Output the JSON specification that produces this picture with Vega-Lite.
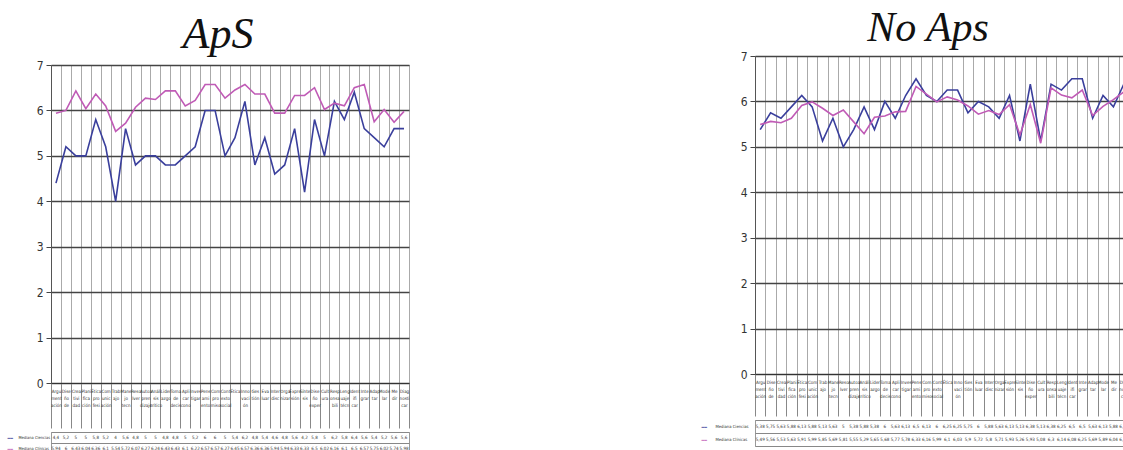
{
  "$schema": "https://vega.github.io/schema/vega-lite/v6.json",
  "background": "white",
  "padding": {"left": 5, "top": 5, "right": 0, "bottom": 0},
  "config": {
    "locale": {"number": {"decimal": ",", "thousands": ".", "grouping": [3], "currency": ["", " €"]}},
    "view": {"stroke": "#999"},
    "font": "DejaVu Sans Condensed"
  },
  "datasets": {
    "aps": [
      {"c":"Argu|ment|ación","s":"Mediana Ciencias","v":4.4},{"c":"Dise|ño|de","s":"Mediana Ciencias","v":5.2},{"c":"Crea|tivi|dad","s":"Mediana Ciencias","v":5},{"c":"Plani|fica|ción","s":"Mediana Ciencias","v":5},{"c":"Ética|pro|fesi","s":"Mediana Ciencias","v":5.8},{"c":"Com|unic|ación","s":"Mediana Ciencias","v":5.2},{"c":"Trab|ajo","s":"Mediana Ciencias","v":4},{"c":"Mane|jo|tecn","s":"Mediana Ciencias","v":5.6},{"c":"Reso|lver","s":"Mediana Ciencias","v":4.8},{"c":"Autoa|pren|dizaje","s":"Mediana Ciencias","v":5},{"c":"Análi|sis|crítico","s":"Mediana Ciencias","v":5},{"c":"Lider|azgo","s":"Mediana Ciencias","v":4.8},{"c":"Toma|de|decis","s":"Mediana Ciencias","v":4.8},{"c":"Apli|car|cono","s":"Mediana Ciencias","v":5},{"c":"Inves|tigar","s":"Mediana Ciencias","v":5.2},{"c":"Pens|ami|ento","s":"Mediana Ciencias","v":6},{"c":"Com|pro|miso","s":"Mediana Ciencias","v":6},{"c":"Cont|exto|social","s":"Mediana Ciencias","v":5},{"c":"Ética","s":"Mediana Ciencias","v":5.4},{"c":"Inno|vaci|ón","s":"Mediana Ciencias","v":6.2},{"c":"Ges|tión","s":"Mediana Ciencias","v":4.8},{"c":"Eva|luar","s":"Mediana Ciencias","v":5.4},{"c":"Inter|disc","s":"Mediana Ciencias","v":4.6},{"c":"Orga|nizar","s":"Mediana Ciencias","v":4.8},{"c":"Expre|sión","s":"Mediana Ciencias","v":5.6},{"c":"Sínte|sis","s":"Mediana Ciencias","v":4.2},{"c":"Dise|ño|exper","s":"Mediana Ciencias","v":5.8},{"c":"Cult|ura","s":"Mediana Ciencias","v":5},{"c":"Resp|onsa|bili","s":"Mediana Ciencias","v":6.2},{"c":"Leng|uaje|técn","s":"Mediana Ciencias","v":5.8},{"c":"Ident|ifi|car","s":"Mediana Ciencias","v":6.4},{"c":"Inte|grar","s":"Mediana Ciencias","v":5.6},{"c":"Adap|tar","s":"Mediana Ciencias","v":5.4},{"c":"Mode|lar","s":"Mediana Ciencias","v":5.2},{"c":"Me|dir","s":"Mediana Ciencias","v":5.6},{"c":"Diag|nosti|car","s":"Mediana Ciencias","v":5.6},
      {"c":"Argu|ment|ación","s":"Mediana Clínicas","v":5.94},{"c":"Dise|ño|de","s":"Mediana Clínicas","v":6.0},{"c":"Crea|tivi|dad","s":"Mediana Clínicas","v":6.43},{"c":"Plani|fica|ción","s":"Mediana Clínicas","v":6.04},{"c":"Ética|pro|fesi","s":"Mediana Clínicas","v":6.36},{"c":"Com|unic|ación","s":"Mediana Clínicas","v":6.1},{"c":"Trab|ajo","s":"Mediana Clínicas","v":5.54},{"c":"Mane|jo|tecn","s":"Mediana Clínicas","v":5.72},{"c":"Reso|lver","s":"Mediana Clínicas","v":6.07},{"c":"Autoa|pren|dizaje","s":"Mediana Clínicas","v":6.27},{"c":"Análi|sis|crítico","s":"Mediana Clínicas","v":6.24},{"c":"Lider|azgo","s":"Mediana Clínicas","v":6.43},{"c":"Toma|de|decis","s":"Mediana Clínicas","v":6.43},{"c":"Apli|car|cono","s":"Mediana Clínicas","v":6.1},{"c":"Inves|tigar","s":"Mediana Clínicas","v":6.22},{"c":"Pens|ami|ento","s":"Mediana Clínicas","v":6.57},{"c":"Com|pro|miso","s":"Mediana Clínicas","v":6.57},{"c":"Cont|exto|social","s":"Mediana Clínicas","v":6.27},{"c":"Ética","s":"Mediana Clínicas","v":6.45},{"c":"Inno|vaci|ón","s":"Mediana Clínicas","v":6.57},{"c":"Ges|tión","s":"Mediana Clínicas","v":6.36},{"c":"Eva|luar","s":"Mediana Clínicas","v":6.36},{"c":"Inter|disc","s":"Mediana Clínicas","v":5.94},{"c":"Orga|nizar","s":"Mediana Clínicas","v":5.94},{"c":"Expre|sión","s":"Mediana Clínicas","v":6.33},{"c":"Sínte|sis","s":"Mediana Clínicas","v":6.33},{"c":"Dise|ño|exper","s":"Mediana Clínicas","v":6.5},{"c":"Cult|ura","s":"Mediana Clínicas","v":6.02},{"c":"Resp|onsa|bili","s":"Mediana Clínicas","v":6.16},{"c":"Leng|uaje|técn","s":"Mediana Clínicas","v":6.1},{"c":"Ident|ifi|car","s":"Mediana Clínicas","v":6.5},{"c":"Inte|grar","s":"Mediana Clínicas","v":6.57},{"c":"Adap|tar","s":"Mediana Clínicas","v":5.75},{"c":"Mode|lar","s":"Mediana Clínicas","v":6.02},{"c":"Me|dir","s":"Mediana Clínicas","v":5.74},{"c":"Diag|nosti|car","s":"Mediana Clínicas","v":5.98}
    ],
    "noaps": [
      {"c":"Argu|ment|ación","s":"Mediana Ciencias","v":5.38},{"c":"Dise|ño|de","s":"Mediana Ciencias","v":5.75},{"c":"Crea|tivi|dad","s":"Mediana Ciencias","v":5.63},{"c":"Plani|fica|ción","s":"Mediana Ciencias","v":5.88},{"c":"Ética|pro|fesi","s":"Mediana Ciencias","v":6.13},{"c":"Com|unic|ación","s":"Mediana Ciencias","v":5.88},{"c":"Trab|ajo","s":"Mediana Ciencias","v":5.13},{"c":"Mane|jo|tecn","s":"Mediana Ciencias","v":5.63},{"c":"Reso|lver","s":"Mediana Ciencias","v":5},{"c":"Autoa|pren|dizaje","s":"Mediana Ciencias","v":5.38},{"c":"Análi|sis|crítico","s":"Mediana Ciencias","v":5.88},{"c":"Lider|azgo","s":"Mediana Ciencias","v":5.38},{"c":"Toma|de|decis","s":"Mediana Ciencias","v":6},{"c":"Apli|car|cono","s":"Mediana Ciencias","v":5.63},{"c":"Inves|tigar","s":"Mediana Ciencias","v":6.13},{"c":"Pens|ami|ento","s":"Mediana Ciencias","v":6.5},{"c":"Com|pro|miso","s":"Mediana Ciencias","v":6.13},{"c":"Cont|exto|social","s":"Mediana Ciencias","v":6},{"c":"Ética","s":"Mediana Ciencias","v":6.25},{"c":"Inno|vaci|ón","s":"Mediana Ciencias","v":6.25},{"c":"Ges|tión","s":"Mediana Ciencias","v":5.75},{"c":"Eva|luar","s":"Mediana Ciencias","v":6},{"c":"Inter|disc","s":"Mediana Ciencias","v":5.88},{"c":"Orga|nizar","s":"Mediana Ciencias","v":5.63},{"c":"Expre|sión","s":"Mediana Ciencias","v":6.13},{"c":"Sínte|sis","s":"Mediana Ciencias","v":5.13},{"c":"Dise|ño|exper","s":"Mediana Ciencias","v":6.38},{"c":"Cult|ura","s":"Mediana Ciencias","v":5.13},{"c":"Resp|onsa|bili","s":"Mediana Ciencias","v":6.38},{"c":"Leng|uaje|técn","s":"Mediana Ciencias","v":6.25},{"c":"Ident|ifi|car","s":"Mediana Ciencias","v":6.5},{"c":"Inte|grar","s":"Mediana Ciencias","v":6.5},{"c":"Adap|tar","s":"Mediana Ciencias","v":5.63},{"c":"Mode|lar","s":"Mediana Ciencias","v":6.13},{"c":"Me|dir","s":"Mediana Ciencias","v":5.88},{"c":"Diag|nosti|car","s":"Mediana Ciencias","v":6.38},
      {"c":"Argu|ment|ación","s":"Mediana Clínicas","v":5.49},{"c":"Dise|ño|de","s":"Mediana Clínicas","v":5.56},{"c":"Crea|tivi|dad","s":"Mediana Clínicas","v":5.53},{"c":"Plani|fica|ción","s":"Mediana Clínicas","v":5.63},{"c":"Ética|pro|fesi","s":"Mediana Clínicas","v":5.91},{"c":"Com|unic|ación","s":"Mediana Clínicas","v":5.99},{"c":"Trab|ajo","s":"Mediana Clínicas","v":5.85},{"c":"Mane|jo|tecn","s":"Mediana Clínicas","v":5.69},{"c":"Reso|lver","s":"Mediana Clínicas","v":5.81},{"c":"Autoa|pren|dizaje","s":"Mediana Clínicas","v":5.55},{"c":"Análi|sis|crítico","s":"Mediana Clínicas","v":5.29},{"c":"Lider|azgo","s":"Mediana Clínicas","v":5.65},{"c":"Toma|de|decis","s":"Mediana Clínicas","v":5.68},{"c":"Apli|car|cono","s":"Mediana Clínicas","v":5.77},{"c":"Inves|tigar","s":"Mediana Clínicas","v":5.78},{"c":"Pens|ami|ento","s":"Mediana Clínicas","v":6.33},{"c":"Com|pro|miso","s":"Mediana Clínicas","v":6.16},{"c":"Cont|exto|social","s":"Mediana Clínicas","v":5.99},{"c":"Ética","s":"Mediana Clínicas","v":6.1},{"c":"Inno|vaci|ón","s":"Mediana Clínicas","v":6.03},{"c":"Ges|tión","s":"Mediana Clínicas","v":5.9},{"c":"Eva|luar","s":"Mediana Clínicas","v":5.72},{"c":"Inter|disc","s":"Mediana Clínicas","v":5.8},{"c":"Orga|nizar","s":"Mediana Clínicas","v":5.71},{"c":"Expre|sión","s":"Mediana Clínicas","v":5.93},{"c":"Sínte|sis","s":"Mediana Clínicas","v":5.26},{"c":"Dise|ño|exper","s":"Mediana Clínicas","v":5.93},{"c":"Cult|ura","s":"Mediana Clínicas","v":5.08},{"c":"Resp|onsa|bili","s":"Mediana Clínicas","v":6.3},{"c":"Leng|uaje|técn","s":"Mediana Clínicas","v":6.14},{"c":"Ident|ifi|car","s":"Mediana Clínicas","v":6.08},{"c":"Inte|grar","s":"Mediana Clínicas","v":6.25},{"c":"Adap|tar","s":"Mediana Clínicas","v":5.69},{"c":"Mode|lar","s":"Mediana Clínicas","v":5.89},{"c":"Me|dir","s":"Mediana Clínicas","v":6.04},{"c":"Diag|nosti|car","s":"Mediana Clínicas","v":6.21}
    ]
  },
  "spacing": 287,
  "hconcat": [
    {
      "spacing": 0,
      "vconcat": [
        {
          "width": 358, "height": 53,
          "view": {"stroke": null},
          "data": {"values": [{"t": "ApS"}]},
          "mark": {"type": "text", "font": "Liberation Serif", "fontStyle": "italic", "fontSize": 44, "color": "#111", "dx": -12, "dy": 3, "baseline": "middle"},
          "encoding": {"text": {"field": "t", "type": "nominal"}}
        },
        {
          "width": 358, "height": 318,
          "data": {"name": "aps"},
          "mark": {"type": "line", "strokeWidth": 1.6},
          "encoding": {
            "x": {"field": "c", "type": "nominal", "sort": null, "scale": {"type": "band", "paddingInner": 0, "paddingOuter": 0},
              "axis": {"title": null, "labelAngle": 0, "labelExpr": "split(datum.label, '|')", "labelFontSize": 4.5, "labelLineHeight": 7, "labelBaseline": "top", "labelPadding": -40, "labelOverlap": false, "labelColor": "#333", "labelLimit": 0, "tickBand": "extent", "tickSize": 45, "tickColor": "#888", "domainColor": "#333", "grid": true, "gridColor": "#aaa", "minExtent": 45, "maxExtent": 45}},
            "y": {"field": "v", "type": "quantitative", "scale": {"domain": [0, 7]},
              "axis": {"title": null, "values": [0,1,2,3,4,5,6,7], "grid": true, "gridColor": "#444", "gridWidth": 1.3, "domainColor": "#555", "tickColor": "#444", "tickSize": 5, "labelFontSize": 12, "labelColor": "#333", "labelPadding": 3}},
            "color": {"field": "s", "type": "nominal", "scale": {"domain": ["Mediana Ciencias", "Mediana Clínicas"], "range": ["#3a3f9c", "#c05bb6"]}, "legend": null}
          }
        },
        {
          "width": 358, "height": 22,
          "data": {"name": "aps"},
          "layer": [
            {
              "mark": {"type": "text", "fontSize": 4.5, "color": "#333"},
              "encoding": {
                "x": {"field": "c", "type": "nominal", "sort": null, "scale": {"type": "band", "paddingInner": 0, "paddingOuter": 0},
                  "axis": {"title": null, "labels": false, "ticks": false, "domain": false, "grid": true, "tickBand": "extent", "gridColor": "#888"}},
                "y": {"field": "s", "type": "nominal", "sort": ["Mediana Ciencias", "Mediana Clínicas"], "scale": {"type": "band", "paddingInner": 0, "paddingOuter": 0},
                  "axis": {"title": null, "ticks": false, "domain": false, "grid": true, "tickBand": "extent", "gridColor": "#888", "labelFontSize": 4, "labelColor": "#333", "labelAlign": "left", "labelPadding": 33, "minExtent": 45, "maxExtent": 45}},
                "text": {"field": "v", "type": "quantitative", "format": ".2~f"}
              }
            },
            {
              "mark": {"type": "text", "fontSize": 4.5, "opacity": 0},
              "encoding": {
                "x": {"field": "c", "type": "nominal", "sort": null, "scale": {"type": "band", "paddingInner": 0, "paddingOuter": 0}, "axis": null},
                "y": {"field": "s", "type": "nominal", "sort": ["Mediana Ciencias", "Mediana Clínicas"], "scale": {"type": "band", "paddingInner": 0, "paddingOuter": 0},
                  "axis": {"orient": "left", "title": null, "ticks": false, "domain": false, "grid": false, "labelExpr": "'━━'", "labelFontSize": 5, "labelAlign": "left", "labelPadding": 44, "minExtent": 45, "maxExtent": 45,
                    "labelColor": {"condition": {"test": "datum.value == 'Mediana Ciencias'", "value": "#3a3f9c"}, "value": "#c05bb6"}}},
                "text": {"field": "v", "type": "quantitative"}
              }
            }
          ],
          "resolve": {"axis": {"y": "independent"}}
        }
      ]
    },
    {
      "spacing": 0,
      "vconcat": [
        {
          "width": 374, "height": 43,
          "view": {"stroke": null},
          "data": {"values": [{"t": "No Aps"}]},
          "mark": {"type": "text", "font": "Liberation Serif", "fontStyle": "italic", "fontSize": 42, "color": "#111", "dx": -14, "dy": 1, "baseline": "middle"},
          "encoding": {"text": {"field": "t", "type": "nominal"}}
        },
        {
          "width": 374, "height": 318,
          "data": {"name": "noaps"},
          "mark": {"type": "line", "strokeWidth": 1.6},
          "encoding": {
            "x": {"field": "c", "type": "nominal", "sort": null, "scale": {"type": "band", "paddingInner": 0, "paddingOuter": 0},
              "axis": {"title": null, "labelAngle": 0, "labelExpr": "split(datum.label, '|')", "labelFontSize": 4.5, "labelLineHeight": 7, "labelBaseline": "top", "labelPadding": -37, "labelOverlap": false, "labelColor": "#333", "labelLimit": 0, "tickBand": "extent", "tickSize": 42, "tickColor": "#888", "domainColor": "#333", "grid": true, "gridColor": "#aaa", "minExtent": 42, "maxExtent": 42}},
            "y": {"field": "v", "type": "quantitative", "scale": {"domain": [0, 7]},
              "axis": {"title": null, "values": [0,1,2,3,4,5,6,7], "grid": true, "gridColor": "#444", "gridWidth": 1.3, "domainColor": "#555", "tickColor": "#444", "tickSize": 5, "labelFontSize": 12, "labelColor": "#333", "labelPadding": 3}},
            "color": {"field": "s", "type": "nominal", "scale": {"domain": ["Mediana Ciencias", "Mediana Clínicas"], "range": ["#3a3f9c", "#c05bb6"]}, "legend": null}
          }
        },
        {
          "width": 374, "height": 26,
          "data": {"name": "noaps"},
          "layer": [
            {
              "mark": {"type": "text", "fontSize": 4.5, "color": "#333"},
              "encoding": {
                "x": {"field": "c", "type": "nominal", "sort": null, "scale": {"type": "band", "paddingInner": 0, "paddingOuter": 0},
                  "axis": {"title": null, "labels": false, "ticks": false, "domain": false, "grid": true, "tickBand": "extent", "gridColor": "#888"}},
                "y": {"field": "s", "type": "nominal", "sort": ["Mediana Ciencias", "Mediana Clínicas"], "scale": {"type": "band", "paddingInner": 0, "paddingOuter": 0},
                  "axis": {"title": null, "ticks": false, "domain": false, "grid": true, "tickBand": "extent", "gridColor": "#888", "labelFontSize": 4.2, "labelColor": "#333", "labelAlign": "left", "labelPadding": 40, "minExtent": 57, "maxExtent": 57}},
                "text": {"field": "v", "type": "quantitative", "format": ".2~f"}
              }
            },
            {
              "mark": {"type": "text", "fontSize": 4.5, "opacity": 0},
              "encoding": {
                "x": {"field": "c", "type": "nominal", "sort": null, "scale": {"type": "band", "paddingInner": 0, "paddingOuter": 0}, "axis": null},
                "y": {"field": "s", "type": "nominal", "sort": ["Mediana Ciencias", "Mediana Clínicas"], "scale": {"type": "band", "paddingInner": 0, "paddingOuter": 0},
                  "axis": {"orient": "left", "title": null, "ticks": false, "domain": false, "grid": false, "labelExpr": "'━━'", "labelFontSize": 5, "labelAlign": "left", "labelPadding": 54, "minExtent": 57, "maxExtent": 57,
                    "labelColor": {"condition": {"test": "datum.value == 'Mediana Ciencias'", "value": "#3a3f9c"}, "value": "#c05bb6"}}},
                "text": {"field": "v", "type": "quantitative"}
              }
            }
          ],
          "resolve": {"axis": {"y": "independent"}}
        }
      ]
    }
  ]
}
